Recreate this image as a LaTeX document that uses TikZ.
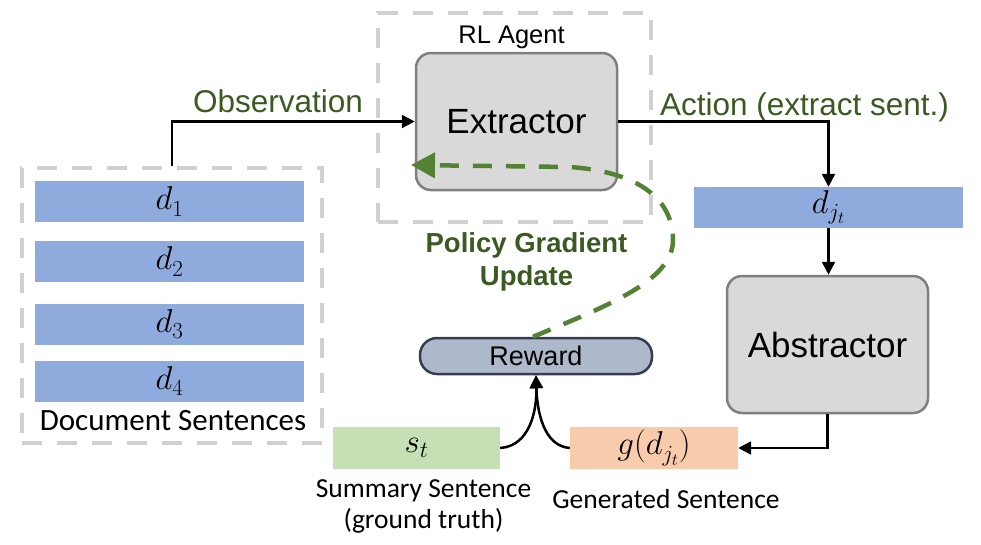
\documentclass[tikz,border=0pt]{standalone}
\usepackage{fontspec}
\usetikzlibrary{arrows.meta}
\DeclareFontShape{OML}{cmm}{m}{it}{<-6>cmmi5<6-7>cmmi6<7-8>cmmi7<8-9>cmmi8<9-10>cmmi9<10-12>cmmi10<12->cmmi12}{}
\DeclareFontShape{OT1}{cmr}{m}{n}{<-6>cmr5<6-7>cmr6<7-8>cmr7<8-9>cmr8<9-10>cmr9<10-12>cmr10<12-17>cmr12<17->cmr17}{}
\DeclareMathSizes{33}{33}{23}{17}
\newfontfamily\arialf{Liberation Sans}
\newfontfamily\calib{Carlito}
\definecolor{bargreen}{HTML}{C5E0B4}
\definecolor{barblue}{HTML}{8FAADC}
\definecolor{barpeach}{HTML}{F8CBAD}
\definecolor{txtgreen}{HTML}{3B5A22}
\definecolor{pggreen}{HTML}{548235}
\definecolor{dashgray}{HTML}{D0D0D0}
\definecolor{boxfill}{HTML}{D9D9D9}
\definecolor{boxline}{HTML}{7F7F7F}
\definecolor{rewfill}{HTML}{ADB9CA}
\definecolor{rewline}{HTML}{333F50}
\tikzset{
  graybox/.style={draw=dashgray, line width=4pt, dash pattern=on 20pt off 15pt, inner sep=0pt},
  bar/.style={inner sep=0pt, minimum height=41pt, font=\fontsize{33}{36}\selectfont},
  modbox/.style={draw=boxline, fill=boxfill, line width=2.5pt, rounded corners=15pt,
     minimum width=201pt, minimum height=137pt, inner sep=0pt, font=\arialf\fontsize{35}{40}\selectfont},
  arr/.style={line width=2.5pt, -{Triangle[length=13pt,width=13pt]}},
  gtxt/.style={text=txtgreen, font=\arialf\fontsize{31.5}{36}\selectfont, anchor=base, inner sep=0pt},
  ctxt/.style={font=\calib\fontsize{27.5}{31}\selectfont, anchor=base, inner sep=0pt},
  pg/.style={draw=pggreen, line width=4.5pt, dash pattern=on 19pt off 14pt,
     -{Triangle[length=24pt,width=25pt,fill=pggreen]}}
}
\begin{document}
\begin{tikzpicture}[x=1pt,y=-1pt]
\useasboundingbox (0,0) rectangle (981,544);
% dashed group boxes
\node[graybox, minimum width=300pt, minimum height=275pt] (docbox) at (172,305.5) {};
\node[graybox, minimum width=273pt, minimum height=209pt] (agentbox) at (514.5,117.5) {};
% document sentences
\node[bar, fill=barblue, minimum width=269pt] (d1) at (169.5,201.5) {$d_1$};
\node[bar, fill=barblue, minimum width=269pt] (d2) at (169.5,261.5) {$d_2$};
\node[bar, fill=barblue, minimum width=269pt] (d3) at (169.5,324) {$d_3$};
\node[bar, fill=barblue, minimum width=269pt] (d4) at (169.5,381) {$d_4$};
\node[ctxt, font=\calib\fontsize{31}{35}\selectfont] (doclab) at (173,430) {Document Sentences};
% modules
\node[modbox] (extractor) at (516.5,121.5) {Extractor};
\node[modbox] (abstractor) at (827.5,344.5) {Abstractor};
\node[anchor=base, inner sep=0pt, font=\arialf\fontsize{25.5}{30}\selectfont] (agentlab) at (511.5,43) {RL Agent};
% extracted sentence
\node[bar, fill=barblue, minimum width=269pt] (djt) at (828.5,207.5) {$d_{j_t}$};
% outputs
\node[bar, fill=barpeach, minimum width=168pt, minimum height=42pt] (g) at (654,448) {$g(d_{j_t})$};
\node[bar, fill=bargreen, minimum width=167pt, minimum height=42pt] (st) at (416.5,448) {$s_t$};
\node[draw=rewline, fill=rewfill, line width=2.5pt, rounded corners=17pt, minimum width=232pt,
      minimum height=36pt, inner sep=0pt, font=\arialf\fontsize{27}{30}\selectfont] (reward) at (536,356) {Reward};
% labels
\node[gtxt] (obslab) at (278,112) {Observation};
\node[gtxt] (actlab) at (804.5,115) {Action (extract sent.)};
\node[ctxt] (sumlab1) at (423.5,497) {Summary Sentence};
\node[ctxt] (sumlab2) at (423.5,528) {(ground truth)};
\node[ctxt] (genlab) at (666,508) {Generated Sentence};
\node[anchor=base, inner sep=0pt, text=txtgreen, align=center,
      font=\arialf\bfseries\fontsize{27.5}{33}\selectfont] (pglab) at (526.5,285) {Policy Gradient\\Update};
% connectors
\draw[arr] (docbox.north) |- (extractor.west);
\draw[arr] (extractor.east) -| (djt.north);
\draw[arr] (djt.south) -- (djt.south |- abstractor.north);
\draw[arr] (abstractor.south) |- (g.east);
\draw[arr] (st.east) .. controls (530,446) and (537,410) .. (reward.south);
\draw[arr] (g.west) .. controls (543,446) and (537,410) .. (reward.south);
% policy gradient update
\coordinate (pgend) at (411,165);
\draw[pg] ([xshift=-3pt]reward.north) .. controls (610,305) and (673,280) .. (673,240)
   .. controls (673,200) and (640,172) .. (570,167) -- (pgend);
\end{tikzpicture}
\end{document}
